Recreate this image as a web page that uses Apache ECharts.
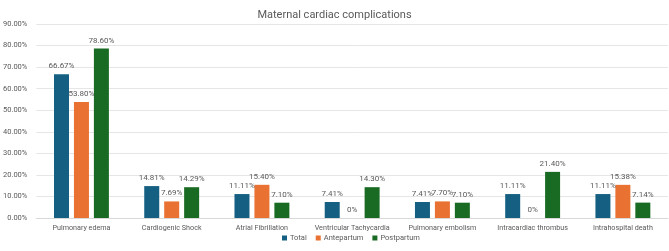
<!DOCTYPE html>
<html lang="en">
<head>
    <meta charset="UTF-8">
    <title>Maternal cardiac complications</title>
    <script src="https://cdn.jsdelivr.net/npm/echarts@6/dist/echarts.min.js"></script>
    <style>
        html, body { margin: 0; padding: 0; background: #fff; }
        #chart { width: 669px; height: 251px; }
    </style>
</head>
<body>
<div id="chart"></div>
<script>
    // data
    const categories = ['Pulmonary edema', 'Cardiogenic Shock', 'Atrial Fibrillation', 'Ventricular Tachycardia',
        'Pulmonary embolism', 'Intracardiac thrombus', 'Intrahospital death'];
    const total = [66.67, 14.81, 11.11, 7.41, 7.41, 11.11, 11.11];
    const antepartum = [53.80, 7.69, 15.40, 0, 7.70, 0, 15.38];
    const postpartum = [78.60, 14.29, 7.10, 14.30, 7.10, 21.40, 7.14];
    const yTicks = [0, 10, 20, 30, 40, 50, 60, 70, 80, 90];

    const font = 'Roboto, "Liberation Sans", sans-serif';
    const labelFmt = (p) => p.value === 0 ? '0%' : p.value.toFixed(2) + '%';

    function bar(name, data, color) {
        return {
            name: name,
            type: 'bar',
            data: data,
            barWidth: 15,
            barGap: '33%',
            itemStyle: { color: color },
            label: {
                show: true,
                position: 'top',
                distance: 4,
                formatter: labelFmt,
                fontSize: 8,
                color: '#595959',
                fontFamily: font
            }
        };
    }

    let chart = echarts.init(document.getElementById('chart'));
    chart.setOption({
        animation: false,
        title: {
            text: 'Maternal cardiac complications',
            left: 'center',
            top: 5,
            textStyle: { fontSize: 11, fontWeight: 'normal', color: '#595959', fontFamily: font }
        },
        legend: {
            bottom: 4,
            left: 277,
            itemWidth: 5,
            itemHeight: 5,
            itemGap: 9,
            icon: 'rect',
            textStyle: { fontSize: 7.5, color: '#595959', fontFamily: font, padding: [0, 0, 0, -2] }
        },
        grid: { left: 35, right: 1, top: 24, bottom: 33, containLabel: false },
        xAxis: {
            type: 'category',
            data: categories,
            axisTick: { show: false },
            axisLine: { lineStyle: { color: '#d9d9d9' } },
            axisLabel: { fontSize: 7.2, color: '#595959', fontFamily: font, margin: 7, interval: 0 }
        },
        yAxis: {
            type: 'value',
            min: yTicks[0],
            max: yTicks[yTicks.length - 1],
            interval: 10,
            axisLine: { show: false },
            axisTick: { show: false },
            splitLine: { lineStyle: { color: '#e6e6e6' } },
            axisLabel: {
                fontSize: 7.5, color: '#595959', fontFamily: font, margin: 9,
                formatter: (v) => v.toFixed(2) + '%'
            }
        },
        series: [
            bar('Total', total, '#156082'),
            bar('Antepartum', antepartum, '#e97132'),
            bar('Postpartum', postpartum, '#196b24')
        ]
    });
</script>
</body>
</html>
